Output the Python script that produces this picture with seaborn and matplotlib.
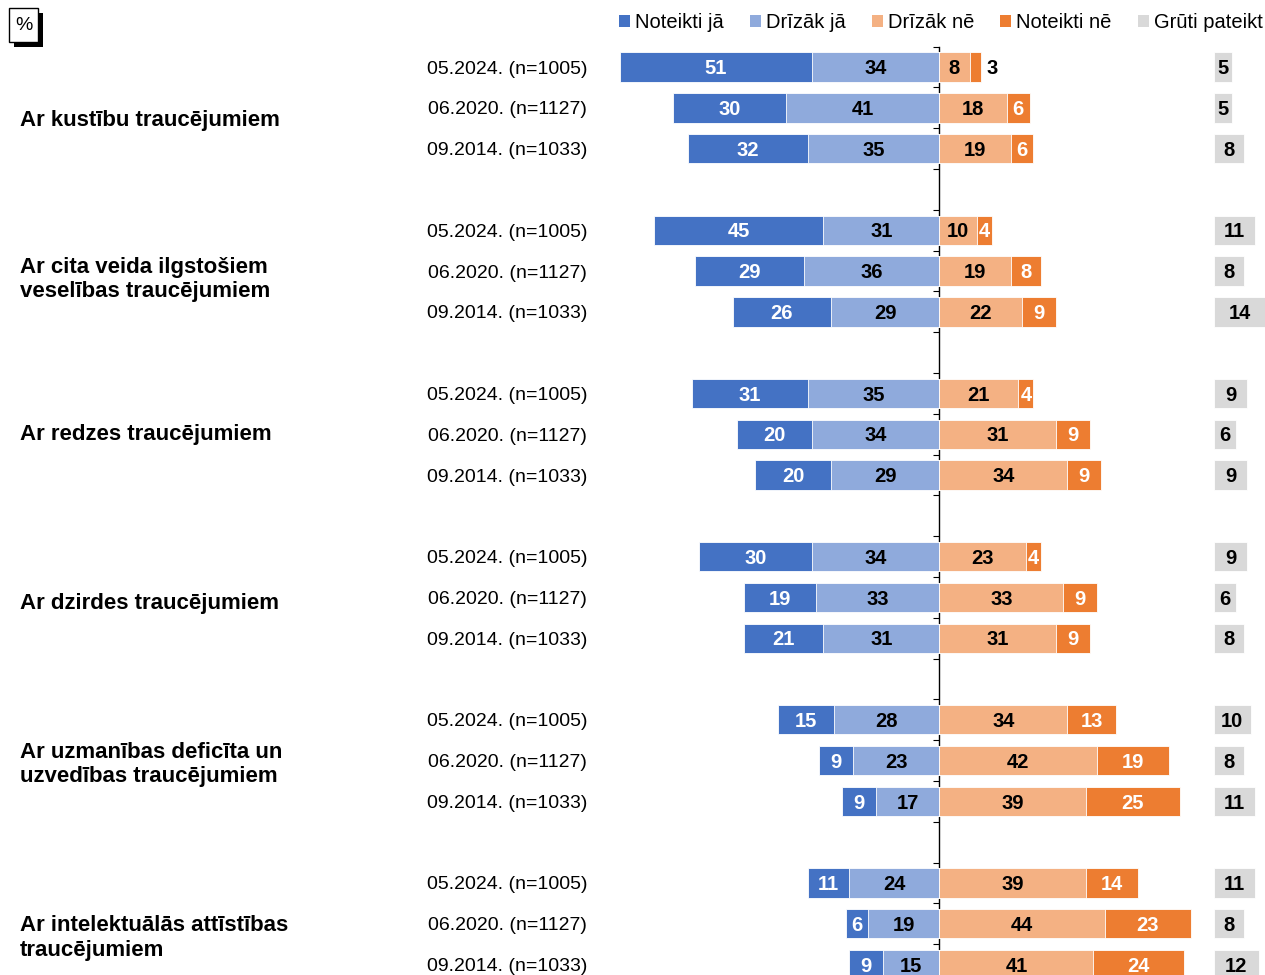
import numpy as np
import pandas as pd
import matplotlib
matplotlib.use("Agg")
import matplotlib.pyplot as plt
import matplotlib.transforms as mtransforms
from matplotlib.patches import Patch, Rectangle
import seaborn as sns

# --- data -------------------------------------------------------------
groups = [
    "Ar kustību traucējumiem",
    "Ar cita veida ilgstošiem\nveselības traucējumiem",
    "Ar redzes traucējumiem",
    "Ar dzirdes traucējumiem",
    "Ar uzmanības deficīta un\nuzvedības traucējumiem",
    "Ar intelektuālās attīstības\ntraucējumiem",
]
dates = ["05.2024. (n=1005)", "06.2020. (n=1127)", "09.2014. (n=1033)"]

noteikti_ja = [51, 30, 32, 45, 29, 26, 31, 20, 20, 30, 19, 21, 15, 9, 9, 11, 6, 9]
drizak_ja = [34, 41, 35, 31, 36, 29, 35, 34, 29, 34, 33, 31, 28, 23, 17, 24, 19, 15]
drizak_ne = [8, 18, 19, 10, 19, 22, 21, 31, 34, 23, 33, 31, 34, 42, 39, 39, 44, 41]
noteikti_ne = [3, 6, 6, 4, 8, 9, 4, 9, 9, 4, 9, 9, 13, 19, 25, 14, 23, 24]
gruti_pateikt = [5, 5, 8, 11, 8, 14, 9, 6, 9, 9, 6, 8, 10, 8, 11, 11, 8, 12]

legend_labels = ["Noteikti jā", "Drīzāk jā", "Drīzāk nē", "Noteikti nē", "Grūti pateikt"]

DARK_BLUE = "#4472C4"
LIGHT_BLUE = "#8FAADC"
LIGHT_ORANGE = "#F4B183"
DARK_ORANGE = "#ED7D31"
GRAY = "#D9D9D9"
GRAY_START = 73  # gray column sits apart, on the right

# group label offsets (rows) as placed in the original
label_shift = [0.3, 0.2, 0.0, 0.15, 0.1, 0.35]

# --- table -------------------------------------------------------------
row_keys = [f"{gi}|{d}" for gi in range(len(groups)) for d in dates]
order = []
for gi in range(len(groups)):
    if gi > 0:
        order.append(f"gap{gi}")
    for d in dates:
        order.append(f"{gi}|{d}")
pos = {r: i for i, r in enumerate(order)}

df = pd.DataFrame({
    "row": row_keys,
    "nj": noteikti_ja,
    "dj": drizak_ja,
    "dn": drizak_ne,
    "nn": noteikti_ne,
    "gp": gruti_pateikt,
})
df["left_total"] = -(df["nj"] + df["dj"])
df["left_inner"] = -df["dj"]
df["right_total"] = df["dn"] + df["nn"]
df["right_inner"] = df["dn"]

# --- plot ----------------------------------------------------------------
sns.set_theme(style="white")
plt.rcParams["font.family"] = ["Liberation Sans", "DejaVu Sans"]
plt.rcParams["text.color"] = "black"

fig = plt.figure(figsize=(12.65, 9.75), dpi=100, facecolor="white")
ax = fig.add_axes([0.4696, -0.0102, 0.5304, 0.9623])

bar_kw = dict(y="row", order=order, orient="h", saturation=1, width=0.72,
              errorbar=None, edgecolor="white", linewidth=0.6, ax=ax)
sns.barplot(df, x="left_total", color=DARK_BLUE, **bar_kw)
sns.barplot(df, x="left_inner", color=LIGHT_BLUE, **bar_kw)
sns.barplot(df, x="right_total", color=DARK_ORANGE, **bar_kw)
sns.barplot(df, x="right_inner", color=LIGHT_ORANGE, **bar_kw)
sns.barplot(df, x="gp", color=GRAY, left=GRAY_START, **bar_kw)

val_kw = dict(ha="center", va="center", fontsize=14.5, fontweight="bold")
for _, r in df.iterrows():
    y = pos[r["row"]] + 0.04
    ax.text(-(r["dj"] + r["nj"] / 2), y, str(r["nj"]), color="white", **val_kw)
    ax.text(-r["dj"] / 2, y, str(r["dj"]), color="black", **val_kw)
    ax.text(r["dn"] / 2, y, str(r["dn"]), color="black", **val_kw)
    if r["nn"] < 4:
        ax.text(r["dn"] + r["nn"] + 1.4, y, str(r["nn"]), color="black",
                **{**val_kw, "ha": "left"})
    else:
        ax.text(r["dn"] + r["nn"] / 2, y, str(r["nn"]), color="white", **val_kw)
    ax.text(GRAY_START + r["gp"] / 2, y, str(r["gp"]), color="black", **val_kw)

ax.set_xlim(-92, 86.7)
ax.set_ylim(len(order) - 0.5, -0.5)
ax.set_xticks([])
ax.set_xlabel("")
ax.set_ylabel("")
ticklabels = ["" if k.startswith("gap") else k.split("|")[1] for k in order]
ax.set_yticks(range(len(order)), labels=ticklabels)
ax.tick_params(axis="y", length=0, pad=5, labelsize=14, labelcolor="black")
sns.despine(ax=ax, left=True, bottom=True)

# zero line with ticks at category boundaries
sec = ax.secondary_yaxis(0, transform=ax.transData)
sec.set_yticks(np.arange(-0.5, len(order), 1.0))
sec.tick_params(axis="y", left=True, right=False, labelleft=False, labelright=False,
                direction="out", length=4, width=0.8, color="black")
for s in sec.spines.values():
    s.set_color("black")
    s.set_linewidth(1.0)

# group names on the far left
trans = mtransforms.blended_transform_factory(fig.transFigure, ax.transData)
for gi, name in enumerate(groups):
    mid = pos[f"{gi}|{dates[1]}"] + label_shift[gi]
    ax.text(20 / 1265, mid, name, transform=trans, ha="left", va="center",
            fontsize=16, fontweight="bold", color="black", linespacing=1.2,
            clip_on=False)

# legend
handles = [Patch(facecolor=c, edgecolor="none")
           for c in [DARK_BLUE, LIGHT_BLUE, LIGHT_ORANGE, DARK_ORANGE, GRAY]]
fig.legend(handles, legend_labels, loc="center right", bbox_to_anchor=(1.0, 1 - 23 / 975),
           ncol=5, frameon=False, handlelength=0.55, handleheight=0.55, handletextpad=0.25,
           columnspacing=1.3, borderaxespad=0, borderpad=0.1,
           prop={"size": 14.5})

# "%" box with a shadow
fig.add_artist(Rectangle((14 / 1265, 1 - 47 / 975), 29 / 1265, 34 / 975,
                         transform=fig.transFigure, facecolor="black", edgecolor="none"))
fig.add_artist(Rectangle((9 / 1265, 1 - 42 / 975), 29 / 1265, 34 / 975,
                         transform=fig.transFigure, facecolor="white", edgecolor="black",
                         linewidth=1))
fig.text(23.5 / 1265, 1 - 26 / 975, "%", ha="center", va="center", fontsize=14)

fig.savefig("out.png", dpi=100, facecolor="white")
